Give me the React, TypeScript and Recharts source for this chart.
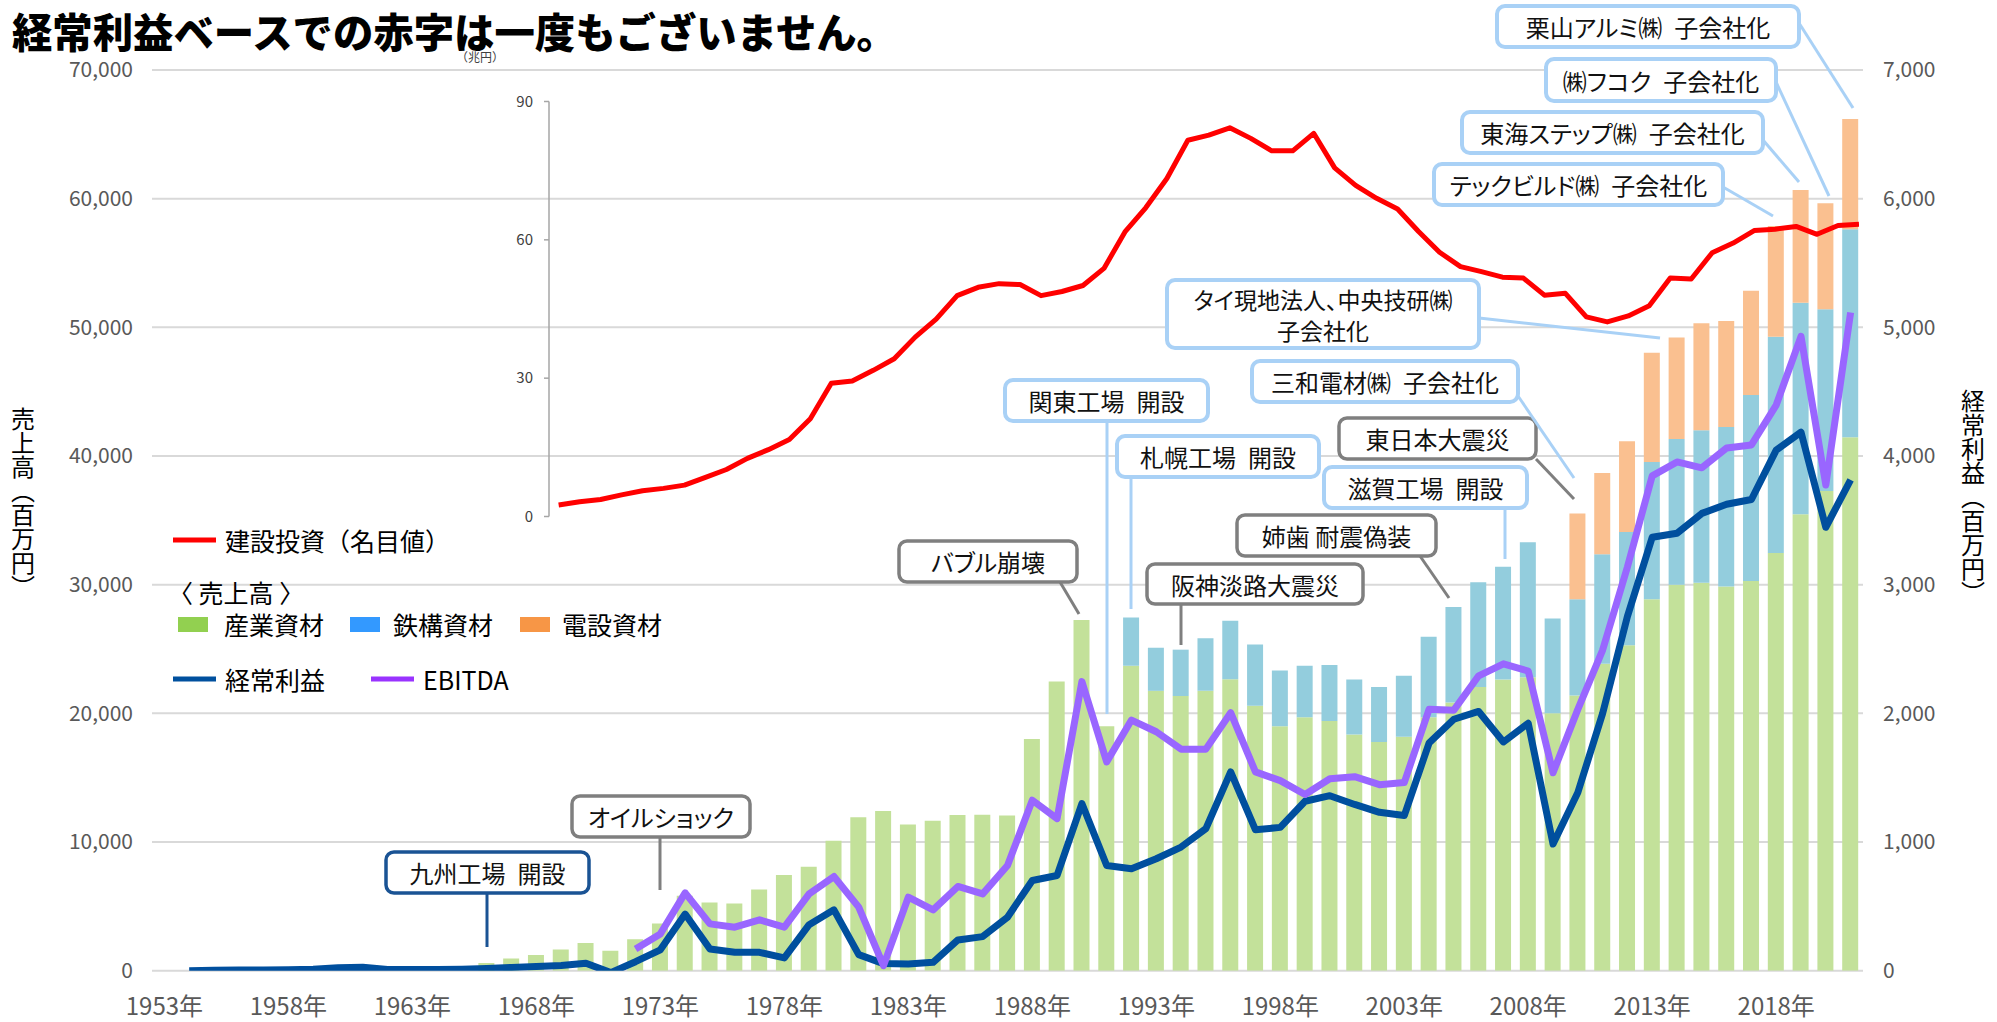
import React from 'react';
import { ComposedChart, LineChart, Bar, Line, XAxis, YAxis, CartesianGrid } from 'recharts';

const FONT = "'Noto Sans CJK JP', 'Noto Sans', sans-serif";

// ---- categories (fiscal years) ----
const years = [
  1953, 1954, 1955, 1956, 1957, 1958, 1959, 1960, 1961, 1962,
  1963, 1964, 1965, 1966, 1967, 1968, 1969, 1970, 1971, 1972,
  1973, 1974, 1975, 1976, 1977, 1978, 1979, 1980, 1981, 1982,
  1983, 1984, 1985, 1986, 1987, 1988, 1989, 1990, 1991, 1992,
  1993, 1994, 1995, 1996, 1997, 1998, 1999, 2000, 2001, 2002,
  2003, 2004, 2005, 2006, 2007, 2008, 2009, 2010, 2011, 2012,
  2013, 2014, 2015, 2016, 2017, 2018, 2019, 2020, 2021,
];

// ---- 売上高 (百万円) ----
const sangyo = [
  null, null, null, null, null, null, null, null, null, null, null, null, null,
  600, 950, 1220, 1640, 2160, 1560, 2440, 3660, 5830, 5310,
  5230, 6320, 7440, 8080, 10100, 11920, 12410, 11370, 11660, 12100,
  12120, 12070, 18000, 22470, 27250, 19000, 23700, 21750, 21350, 21750,
  22660, 20600, 18990, 19700, 19400, 18360, 17780, 18180, 19700, 20840,
  22050, 22630, 22800, 20000, 21380, 23850, 25290, 28860, 30000, 30150,
  29850, 30280, 32460, 35480, 37290, 41450,
];
const tekko = [
  null, null, null, null, null, null, null, null, null, null,
  null, null, null, null, null, null, null, null, null, null,
  null, null, null, null, null, null, null, null, null, null,
  null, null, null, null, null, null, null, null, null,
  3750, 3350, 3600, 4080, 4530, 4760, 4350, 4000, 4350, 4280,
  4270, 4740, 6250, 7420, 8140, 8770, 10490, 7380, 7480, 8520,
  8800, 10680, 11320, 11850, 12400, 14460, 16810, 16430, 14110, 16170,
];
const densetsu = [
  null, null, null, null, null, null, null, null, null, null,
  null, null, null, null, null, null, null, null, null, null,
  null, null, null, null, null, null, null, null, null, null,
  null, null, null, null, null, null, null, null, null, null,
  null, null, null, null, null, null, null, null, null, null,
  null, null, null, null, null, null, null,
  6680, 6310, 7050, 8490, 7900, 8310, 8240, 8110, 8600, 8760, 8240, 8570,
];

// ---- 経常利益 / EBITDA (百万円) ----
const keijo = [
  null,
  0, 3, 5, 5, 8, 12, 22, 27, 10, 10,
  10, 12, 18, 25, 32, 40, 58, -15, 70, 162,
  440, 169, 143, 143, 99, 358, 473, 125, 55, 52,
  65, 239, 265, 416, 701, 740, 1299, 818, 792, 870,
  961, 1104, 1545, 1095, 1114, 1317, 1360, 1292, 1231, 1206,
  1769, 1954, 2015, 1778, 1923, 985, 1385, 2000, 2754, 3369,
  3400, 3554, 3625, 3662, 4046, 4185, 3446, 3815,
];
const ebitda = [
  null, null, null, null, null, null, null, null, null, null,
  null, null, null, null, null, null, null, null, null,
  169, 286, 605, 364, 338, 395, 338, 597, 732, 494,
  39, 571, 473, 655, 597, 818, 1325, 1182, 2247, 1623,
  1948, 1857, 1722, 1722, 2005, 1545, 1477, 1369, 1492, 1508,
  1446, 1462, 2031, 2025, 2292, 2385, 2329, 1538, 2031, 2492,
  3138, 3846, 3954, 3908, 4062, 4086, 4396, 4930, 3775, 5115,
];

// ---- 建設投資（名目値, 兆円） ----
const investYears = [
  1960, 1961, 1962, 1963, 1964, 1965, 1966, 1967, 1968, 1969,
  1970, 1971, 1972, 1973, 1974, 1975, 1976, 1977, 1978, 1979,
  1980, 1981, 1982, 1983, 1984, 1985, 1986, 1987, 1988, 1989,
  1990, 1991, 1992, 1993, 1994, 1995, 1996, 1997, 1998, 1999,
  2000, 2001, 2002, 2003, 2004, 2005, 2006, 2007, 2008, 2009,
  2010, 2011, 2012, 2013, 2014, 2015, 2016, 2017, 2018, 2019,
  2020, 2021, 2022,
];
const invest = [
  2.5, 3.2, 3.7, 4.7, 5.6, 6.1, 6.8, 8.5, 10.2, 12.6,
  14.5, 16.7, 21.2, 28.9, 29.4, 31.7, 34.2, 38.9, 42.8, 47.9,
  49.7, 50.5, 50.3, 47.9, 48.8, 50.1, 53.8, 61.7, 67.0, 73.3,
  81.6, 82.7, 84.3, 82.0, 79.3, 79.3, 83.1, 75.6, 71.8, 69.0,
  66.7, 61.8, 57.3, 54.2, 53.1, 51.9, 51.7, 48.0, 48.4, 43.3,
  42.2, 43.5, 45.7, 51.7, 51.5, 57.2, 59.3, 62.0, 62.3, 62.9,
  61.2, 63.1, 63.4,
];

// ---- tick labels ----
const leftTicks = [0, 10000, 20000, 30000, 40000, 50000, 60000, 70000];
const rightTicks = [0, 1000, 2000, 3000, 4000, 5000, 6000, 7000];
const investTicks = [0, 30, 60, 90];

// ---- annotations ----
const DARK = '#1A5394';
const GRAY = '#7F7F7F';
const LIGHT = '#A9D1F6';
const SP = '\u2002';
const callouts = [
  { lines: [`九州工場${SP}開設`], x: 386, y: 852, w: 203, h: 41, c: DARK, sw: 3.5, l: [487, 893, 487, 947] },
  { lines: ['オイルショック'], x: 572, y: 796, w: 178, h: 41, c: GRAY, sw: 3.5, l: [660, 837, 660, 890] },
  { lines: ['バブル崩壊'], x: 899, y: 541, w: 178, h: 41, c: GRAY, sw: 3.5, l: [1060, 582, 1079, 614] },
  { lines: [`関東工場${SP}開設`], x: 1005, y: 380, w: 203, h: 41, c: LIGHT, sw: 4, l: [1107, 421, 1107, 714] },
  { lines: [`札幌工場${SP}開設`], x: 1117, y: 436, w: 202, h: 41, c: LIGHT, sw: 4, l: [1131, 477, 1131, 609] },
  { lines: ['阪神淡路大震災'], x: 1147, y: 564, w: 216, h: 40, c: GRAY, sw: 3.5, l: [1181, 604, 1181, 645] },
  { lines: ['姉歯 耐震偽装'], x: 1237, y: 515, w: 199, h: 41, c: GRAY, sw: 3.5, l: [1420, 556, 1449, 598] },
  { lines: [`滋賀工場${SP}開設`], x: 1324, y: 467, w: 203, h: 41, c: LIGHT, sw: 4, l: [1505, 508, 1505, 559] },
  { lines: ['東日本大震災'], x: 1339, y: 418, w: 197, h: 41, c: GRAY, sw: 3.5, l: [1536, 459, 1574, 499] },
  { lines: [`三和電材㈱${SP}子会社化`], x: 1252, y: 361, w: 266, h: 41, c: LIGHT, sw: 4, l: [1518, 396, 1574, 478] },
  { lines: ['タイ現地法人、中央技研㈱', '子会社化'], x: 1167, y: 280, w: 312, h: 68, c: LIGHT, sw: 4, l: [1479, 318, 1660, 338] },
  { lines: [`テックビルド㈱${SP}子会社化`], x: 1434, y: 164, w: 289, h: 41, c: LIGHT, sw: 4, l: [1723, 187, 1773, 216] },
  { lines: [`東海ステップ㈱${SP}子会社化`], x: 1462, y: 112, w: 301, h: 41, c: LIGHT, sw: 4, l: [1763, 140, 1799, 182] },
  { lines: [`㈱フコク${SP}子会社化`], x: 1546, y: 59, w: 230, h: 42, c: LIGHT, sw: 4, l: [1776, 82, 1829, 196] },
  { lines: [`栗山アルミ㈱${SP}子会社化`], x: 1497, y: 6, w: 302, h: 41, c: LIGHT, sw: 4, l: [1799, 23, 1853, 108] },
];

const data = years.map((y, i) => ({
  year: y,
  sangyo: sangyo[i],
  tekko: tekko[i],
  densetsu: densetsu[i],
  keijo: keijo[i],
  ebitda: ebitda[i],
}));
const investData = investYears.map((y, i) => ({ year: y, invest: invest[i] }));

const fmt = (v: number) => v.toLocaleString('en-US');
const axisTick = { fill: '#595959', fontSize: 21, fontFamily: FONT };

export default function App() {
  return (
    <div style={{ position: 'relative', width: 1997, height: 1022, background: '#fff', fontFamily: FONT }}>
      <style>{'body{margin:0;background:#fff}'}</style>
      <div style={{ position: 'absolute', left: 0, top: 0 }}>
        <ComposedChart width={1997} height={1022} data={data} margin={{ top: 70, right: 34, bottom: 11.3, left: 52 }}>
          <CartesianGrid yAxisId="left" vertical={false} stroke="#D9D9D9" strokeWidth={2} />
          <XAxis
            dataKey="year"
            type="category"
            interval={4}
            tickLine={false}
            axisLine={false}
            height={40}
            tickMargin={21}
            tick={{ fill: '#595959', fontSize: 24, fontFamily: FONT }}
            tickFormatter={(v) => `${v}年`}
          />
          <YAxis
            yAxisId="left"
            orientation="left"
            width={100}
            domain={[0, 70000]}
            ticks={leftTicks}
            allowDataOverflow
            tickLine={false}
            axisLine={false}
            tickMargin={13}
            tick={axisTick}
            tickFormatter={fmt}
          />
          <YAxis
            yAxisId="right"
            orientation="right"
            width={100}
            domain={[0, 7000]}
            ticks={rightTicks}
            allowDataOverflow
            tickLine={false}
            axisLine={false}
            tickMargin={14}
            tick={axisTick}
            tickFormatter={fmt}
          />
          <Bar yAxisId="left" dataKey="sangyo" stackId="s" fill="#C3E19A" barSize={16} isAnimationActive={false} />
          <Bar yAxisId="left" dataKey="tekko" stackId="s" fill="#93CDDD" barSize={16} isAnimationActive={false} />
          <Bar yAxisId="left" dataKey="densetsu" stackId="s" fill="#FAC090" barSize={16} isAnimationActive={false} />
          <Line yAxisId="right" dataKey="keijo" stroke="#004F9E" strokeWidth={7} dot={false} strokeLinejoin="round" isAnimationActive={false} />
          <Line yAxisId="right" dataKey="ebitda" stroke="#9966FF" strokeWidth={7} dot={false} strokeLinejoin="round" isAnimationActive={false} />
        </ComposedChart>
      </div>
      <div style={{ position: 'absolute', left: 0, top: 0 }}>
        <LineChart width={1997} height={1022} data={investData} margin={{ top: 101.5, right: 138, bottom: 505.5, left: 489 }}>
          <XAxis dataKey="year" type="number" domain={[1959.54, 2022]} hide allowDataOverflow />
          <YAxis
            domain={[0, 90]}
            ticks={investTicks}
            width={60}
            allowDataOverflow
            axisLine={{ stroke: '#A6A6A6', strokeWidth: 1.5 }}
            tickLine={{ stroke: '#A6A6A6', strokeWidth: 1.5 }}
            tickSize={5}
            tickMargin={11}
            tick={{ fill: '#404040', fontSize: 15, fontFamily: FONT }}
          />
          <Line dataKey="invest" stroke="#FF0000" strokeWidth={5} dot={false} strokeLinejoin="round" isAnimationActive={false} />
        </LineChart>
      </div>
      <svg width={1997} height={1022} style={{ position: 'absolute', left: 0, top: 0, pointerEvents: 'none' }} fontFamily={FONT}>
        <text x={12} y={47.5} fontSize={41} fontWeight={900} fill="#000" textLength={885} lengthAdjust="spacingAndGlyphs">経常利益ベースでの赤字は一度もございません。</text>
        <text x={480} y={62} fontSize={12} fill="#404040" textAnchor="middle">（兆円）</text>
        <text x={23} y={503} fontSize={24} fill="#000" textAnchor="middle" style={{ writingMode: 'vertical-rl' }}>売上高（百万円）</text>
        <text x={1973} y={497} fontSize={24} fill="#000" textAnchor="middle" style={{ writingMode: 'vertical-rl' }}>経常利益（百万円）</text>

        {/* legend */}
        <line x1={173} y1={540} x2={216} y2={540} stroke="#FF0000" strokeWidth={5} />
        <text x={225} y={540} fontSize={25} dominantBaseline="central" fill="#000">建設投資（名目値）</text>
        <text x={168} y={592} fontSize={25} dominantBaseline="central" fill="#000">〈 売上高 〉</text>
        <rect x={178} y={617} width={30} height={15} fill="#92D050" />
        <text x={224} y={624} fontSize={25} dominantBaseline="central" fill="#000">産業資材</text>
        <rect x={350} y={617} width={30} height={15} fill="#3399FF" />
        <text x={393} y={624} fontSize={25} dominantBaseline="central" fill="#000">鉄構資材</text>
        <rect x={520} y={617} width={30} height={15} fill="#F79646" />
        <text x={562} y={624} fontSize={25} dominantBaseline="central" fill="#000">電設資材</text>
        <line x1={173} y1={679} x2={216} y2={679} stroke="#00509E" strokeWidth={5} />
        <text x={225} y={679} fontSize={25} dominantBaseline="central" fill="#000">経常利益</text>
        <line x1={371} y1={679} x2={414} y2={679} stroke="#9933FF" strokeWidth={5} />
        <text x={423} y={679} fontSize={25} dominantBaseline="central" fill="#000">EBITDA</text>

        {/* callouts */}
        {callouts.map((c, i) => (
          <g key={i}>
            <line x1={c.l[0]} y1={c.l[1]} x2={c.l[2]} y2={c.l[3]} stroke={c.c} strokeWidth={3} />
            <rect x={c.x} y={c.y} width={c.w} height={c.h} rx={8} ry={8} fill="#fff" stroke={c.c} strokeWidth={c.sw} />
            {c.lines.map((t, j) => (
              <text
                key={j}
                x={c.x + c.w / 2}
                y={c.y + c.h / 2 + (j - (c.lines.length - 1) / 2) * 31}
                fontSize={c.lines.length > 1 ? 23 : 24}
                textAnchor="middle"
                dominantBaseline="central"
                fill="#111"
                style={{ fontFeatureSettings: "'palt'" }}
              >
                {t}
              </text>
            ))}
          </g>
        ))}
      </svg>
    </div>
  );
}
